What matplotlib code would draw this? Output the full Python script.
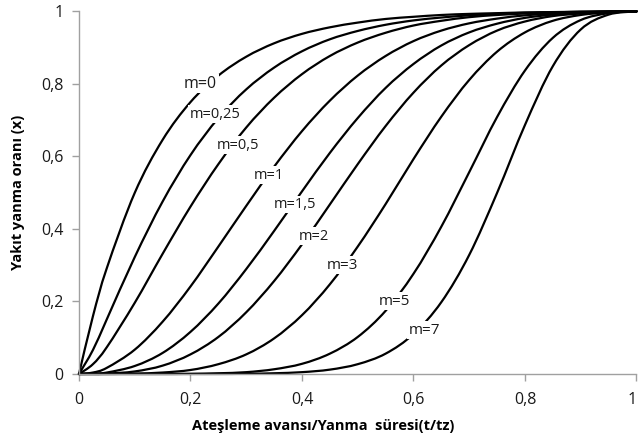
import matplotlib.pyplot as plt
from matplotlib.path import Path
from matplotlib.patches import PathPatch

plt.rcParams['font.family'] = ['Open Sans', 'DejaVu Sans']

# t/tz oranı
t = [0, 0.025, 0.05, 0.1, 0.15, 0.2, 0.25, 0.3, 0.35, 0.4, 0.45, 0.5,
     0.55, 0.6, 0.65, 0.7, 0.75, 0.8, 0.85, 0.9, 0.95, 1.0]

# yakıt yanma oranı, her m değeri için
x_m0 = [0, 0.159, 0.292, 0.499, 0.645, 0.749, 0.822, 0.874, 0.911, 0.937, 0.955,
        0.968, 0.978, 0.984, 0.989, 0.992, 0.994, 0.996, 0.997, 0.998, 0.999, 0.999]
x_m025 = [0, 0.066, 0.151, 0.322, 0.475, 0.603, 0.705, 0.784, 0.844, 0.889, 0.922,
          0.945, 0.962, 0.974, 0.982, 0.988, 0.992, 0.995, 0.996, 0.998, 0.998, 0.999]
x_m05 = [0, 0.027, 0.074, 0.196, 0.331, 0.461, 0.578, 0.679, 0.761, 0.826, 0.876,
         0.913, 0.940, 0.960, 0.973, 0.983, 0.989, 0.993, 0.996, 0.997, 0.998, 0.999]
x_m1 = [0, 0.004, 0.017, 0.067, 0.144, 0.241, 0.351, 0.463, 0.571, 0.669, 0.753,
        0.822, 0.876, 0.917, 0.946, 0.966, 0.979, 0.988, 0.993, 0.996, 0.998, 0.999]
x_m15 = [0, 0.001, 0.004, 0.022, 0.058, 0.116, 0.194, 0.289, 0.394, 0.503, 0.609,
         0.705, 0.788, 0.854, 0.905, 0.941, 0.965, 0.981, 0.990, 0.995, 0.998, 0.999]
x_m2 = [0, 0.0, 0.001, 0.007, 0.023, 0.054, 0.102, 0.170, 0.256, 0.357, 0.467,
        0.578, 0.683, 0.775, 0.850, 0.906, 0.946, 0.971, 0.986, 0.993, 0.997, 0.999]
x_m3 = [0, 0, 0, 0.001, 0.004, 0.011, 0.027, 0.054, 0.098, 0.162, 0.247,
        0.351, 0.468, 0.592, 0.709, 0.810, 0.888, 0.941, 0.973, 0.989, 0.996, 0.999]
x_m5 = [0, 0, 0, 0, 0, 0.0004, 0.002, 0.005, 0.013, 0.028, 0.056,
        0.102, 0.174, 0.276, 0.406, 0.556, 0.708, 0.836, 0.926, 0.975, 0.994, 0.999]
x_m7 = [0, 0, 0, 0, 0, 0, 0, 0.0005, 0.002, 0.005, 0.012,
        0.027, 0.056, 0.110, 0.198, 0.328, 0.499, 0.686, 0.848, 0.949, 0.990, 0.999]

series = [x_m0, x_m025, x_m05, x_m1, x_m15, x_m2, x_m3, x_m5, x_m7]
labels = ['m=0', 'm=0,25', 'm=0,5', 'm=1', 'm=1,5', 'm=2', 'm=3', 'm=5', 'm=7']
# etiket konumları (veri koordinatında)
label_pos = [(0.218, 0.80), (0.244, 0.716), (0.285, 0.63), (0.341, 0.548),
             (0.387, 0.467), (0.421, 0.38), (0.472, 0.30), (0.566, 0.201), (0.62, 0.121)]
label_size = [11.5, 10.5, 10.5, 10.5, 10.5, 10.5, 11, 11, 11]

ticks = [0, 0.2, 0.4, 0.6, 0.8, 1]
tick_labels = ['0', '0,2', '0,4', '0,6', '0,8', '1']


def smooth_path(xs, ys):
    # Excel'deki "düzgünleştirilmiş çizgi" gibi: noktalardan geçen Bezier eğrisi
    pts = list(zip(xs, ys))
    n = len(pts)
    verts = [pts[0]]
    codes = [Path.MOVETO]
    for i in range(n - 1):
        p0 = pts[i - 1] if i > 0 else pts[i]
        p1 = pts[i]
        p2 = pts[i + 1]
        p3 = pts[i + 2] if i + 2 < n else pts[i + 1]
        c1 = (p1[0] + (p2[0] - p0[0]) / 6, p1[1] + (p2[1] - p0[1]) / 6)
        c2 = (p2[0] - (p3[0] - p1[0]) / 6, p2[1] - (p3[1] - p1[1]) / 6)
        verts += [c1, c2, p2]
        codes += [Path.CURVE4] * 3
    return Path(verts, codes)


fig = plt.figure(figsize=(6.38, 4.43), dpi=100)
ax = fig.add_axes([0.1238, 0.1558, 0.8738, 0.8194])

for y in series:
    ax.add_patch(PathPatch(smooth_path(t, y), facecolor='none', edgecolor='black',
                           lw=1.6, capstyle='round', clip_on=False, zorder=2))

for lab, (px, py), fs in zip(labels, label_pos, label_size):
    ax.text(px, py, lab, ha='center', va='center', fontsize=fs, color='#1a1a1a', zorder=5,
            bbox=dict(facecolor='white', edgecolor='none', pad=1.0))

ax.set_xlim(0, 1)
ax.set_ylim(0, 1)
ax.set_xticks(ticks)
ax.set_xticklabels(tick_labels)
ax.set_yticks(ticks)
ax.set_yticklabels(tick_labels)
ax.get_xticklabels()[-1].set_ha('right')

for side in ['top', 'right']:
    ax.spines[side].set_visible(False)
for side in ['left', 'bottom']:
    ax.spines[side].set_color('#a0a0a0')
    ax.spines[side].set_linewidth(1.0)

ax.tick_params(axis='both', direction='out', length=5, width=1.0, color='#a0a0a0',
               labelsize=11.5, labelcolor='#1a1a1a')
ax.tick_params(axis='x', pad=8)
ax.tick_params(axis='y', pad=6)

ax.set_xlabel('Ateşleme avansı/Yanma  süresi(t/tz)', fontsize=10.5, fontweight='bold', labelpad=10)
ax.xaxis.set_label_coords(0.4386, -0.125)
ax.set_ylabel('Yakıt yanma oranı (x)', fontsize=10.5, fontweight='bold', labelpad=12)

plt.savefig('out.png', dpi=100)
